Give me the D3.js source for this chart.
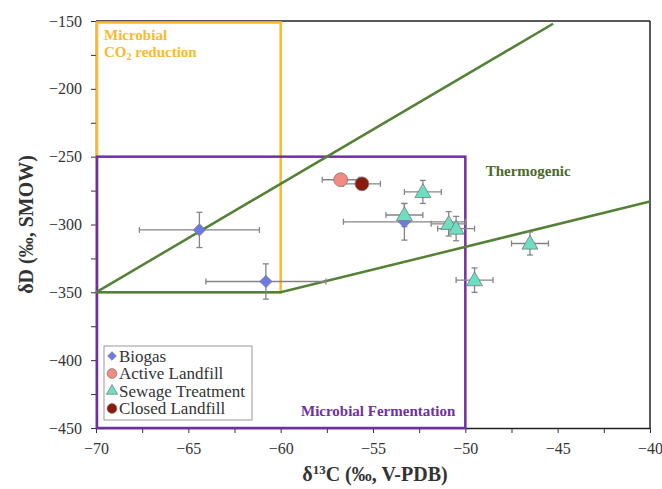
<!DOCTYPE html>
<html>
<head>
<meta charset="utf-8">
<script src="https://cdn.jsdelivr.net/npm/d3@7"></script>
</head>
<body style="margin:0; background:#fff">
<div id="wrapper"></div>
<script>
// data
const seriesNames = ["Biogas", "Active Landfill", "Sewage Treatment", "Closed Landfill"];

const biogasX = [-64.4, -60.8, -53.3];
const biogasY = [-304, -342, -298];
const biogasXErr = [3.25, 3.25, 3.3];
const biogasYErr = [13, 13, 13.5];

const activeX = [-56.75];
const activeY = [-267];
const activeXErr = [1.0];
const activeYErr = [1.5];

const sewageX = [-52.3, -53.3, -50.9, -50.5, -46.5, -49.5];
const sewageY = [-276, -293, -299.5, -303, -314, -341];
const sewageXErr = [1.0, 1.0, 0.95, 1.0, 1.0, 1.0];
const sewageYErr = [8.5, 8.5, 9, 9, 8.5, 9];

const closedX = [-55.6];
const closedY = [-270];
const closedXErr = [1.0];
const closedYErr = [1.5];

// genetic field boundaries
const co2Box = { x0: -70, x1: -60, y0: -350, y1: -150 };
const fermBox = { x0: -70, x1: -50, y0: -450, y1: -250 };
const thermoUpperX = [-70, -45.25];
const thermoUpperY = [-350, -152];
const thermoLowerX = [-70, -60, -40];
const thermoLowerY = [-350, -350, -283];

const xTicks = [-70, -65, -60, -55, -50, -45, -40];
const yTicks = [-150, -200, -250, -300, -350, -400, -450];

const serif = '"Liberation Serif", "Times New Roman", serif';

const width = 662;
let dimensions = {
    width: width,
    height: 489,
    margin: { top: 21, right: 12, bottom: 61, left: 96 },
};
dimensions.boundedWidth = dimensions.width - dimensions.margin.left - dimensions.margin.right;
dimensions.boundedHeight = dimensions.height - dimensions.margin.top - dimensions.margin.bottom;

const svg = d3.select("#wrapper")
    .append("svg")
    .attr("width", dimensions.width)
    .attr("height", dimensions.height)
    .style("font-family", serif);

const bounds = svg.append("g")
    .attr("transform", `translate(${dimensions.margin.left},${dimensions.margin.top})`);

const xScale = d3.scaleLinear().domain([-70, -40]).range([0, dimensions.boundedWidth]);
const yScale = d3.scaleLinear().domain([-450, -150]).range([dimensions.boundedHeight, 0]);

// minor ticks
const xMinor = d3.range(-67.5, -40, 5);
const yMinor = d3.range(-425, -150, 50);

bounds.append("g")
    .attr("transform", `translate(0,${dimensions.boundedHeight})`)
    .call(d3.axisBottom(xScale).tickValues(xMinor).tickSize(5).tickFormat(""))
    .call(g => g.select(".domain").remove())
    .selectAll("line").attr("stroke", "#333");
bounds.append("g")
    .call(d3.axisLeft(yScale).tickValues(yMinor).tickSize(5).tickFormat(""))
    .call(g => g.select(".domain").remove())
    .selectAll("line").attr("stroke", "#333");

const xAxis = bounds.append("g")
    .attr("transform", `translate(0,${dimensions.boundedHeight})`)
    .call(d3.axisBottom(xScale).tickValues(xTicks).tickSize(5).tickPadding(10).tickSizeOuter(0));
const yAxis = bounds.append("g")
    .call(d3.axisLeft(yScale).tickValues(yTicks).tickSize(5).tickPadding(9).tickSizeOuter(0));
[xAxis, yAxis].forEach(a => {
    a.attr("font-family", null).attr("font-size", null);
    a.select(".domain").attr("stroke", "#222").attr("stroke-width", 1.5);
    a.selectAll(".tick line").attr("stroke", "#333");
    a.selectAll(".tick text")
        .style("font-family", serif)
        .style("font-size", "16px")
        .attr("fill", "#333");
});

// frame top / right
bounds.append("line")
    .attr("x1", 0).attr("x2", dimensions.boundedWidth)
    .attr("y1", 0).attr("y2", 0)
    .attr("stroke", "#222").attr("stroke-width", 1.5);
bounds.append("line")
    .attr("x1", dimensions.boundedWidth).attr("x2", dimensions.boundedWidth)
    .attr("y1", 0).attr("y2", dimensions.boundedHeight)
    .attr("stroke", "#222").attr("stroke-width", 1.5);

// field boxes
const yellow = "#FBB92E";
const purple = "#7030A0";
const green = "#538135";

bounds.append("rect")
    .attr("x", xScale(co2Box.x0) + 1)
    .attr("y", yScale(co2Box.y1) + 1.5)
    .attr("width", xScale(co2Box.x1) - xScale(co2Box.x0) - 1)
    .attr("height", yScale(co2Box.y0) - yScale(co2Box.y1) - 1.5)
    .attr("fill", "none")
    .attr("stroke", yellow)
    .attr("stroke-width", 2.5);

bounds.append("rect")
    .attr("x", xScale(fermBox.x0) + 1)
    .attr("y", yScale(fermBox.y1))
    .attr("width", xScale(fermBox.x1) - xScale(fermBox.x0) - 1)
    .attr("height", yScale(fermBox.y0) - yScale(fermBox.y1))
    .attr("fill", "none")
    .attr("stroke", purple)
    .attr("stroke-width", 2.5);

const lineGen = d3.line().x(d => xScale(d[0])).y(d => yScale(d[1]));
bounds.append("path")
    .attr("d", lineGen(d3.zip(thermoUpperX, thermoUpperY)))
    .attr("fill", "none").attr("stroke", green).attr("stroke-width", 2.5);
bounds.append("path")
    .attr("d", lineGen(d3.zip(thermoLowerX, thermoLowerY)))
    .attr("fill", "none").attr("stroke", green).attr("stroke-width", 2.5);

// field labels
const co2Label = bounds.append("text")
    .attr("x", xScale(co2Box.x0) + 8)
    .attr("y", 19)
    .attr("fill", yellow)
    .attr("font-weight", "bold")
    .style("font-size", "15px");
co2Label.append("tspan").text("Microbial");
const co2Line2 = co2Label.append("tspan").attr("x", xScale(co2Box.x0) + 8).attr("dy", 17);
co2Line2.append("tspan").text("CO");
co2Line2.append("tspan").style("font-size", "10px").attr("dy", 3).text("2");
co2Line2.append("tspan").attr("dy", -3).text(" reduction");

bounds.append("text")
    .attr("x", xScale(-48.9))
    .attr("y", yScale(-264))
    .attr("fill", "#4C6A2A")
    .attr("font-weight", "bold")
    .style("font-size", "15px")
    .text("Thermogenic");

bounds.append("text")
    .attr("x", xScale(-58.9))
    .attr("y", yScale(-441))
    .attr("fill", purple)
    .attr("font-weight", "bold")
    .style("font-size", "15px")
    .text("Microbial Fermentation");

// series
const series = [
    { name: seriesNames[0], xs: biogasX, ys: biogasY, xe: biogasXErr, ye: biogasYErr, symbol: d3.symbolDiamond2, size: 95, fill: "#6B7BE6" },
    { name: seriesNames[1], xs: activeX, ys: activeY, xe: activeXErr, ye: activeYErr, symbol: d3.symbolCircle, size: 150, fill: "#F58A80" },
    { name: seriesNames[2], xs: sewageX, ys: sewageY, xe: sewageXErr, ye: sewageYErr, symbol: d3.symbolTriangle, size: 110, fill: "#6EDEC3" },
    { name: seriesNames[3], xs: closedX, ys: closedY, xe: closedXErr, ye: closedYErr, symbol: d3.symbolCircle, size: 150, fill: "#8B1A0F" },
];

const errColor = "#858585";
const cap = 3;
series.forEach(s => {
    const pts = s.xs.map((x, i) => ({ x, y: s.ys[i], xe: s.xe[i], ye: s.ye[i] }));
    const g = bounds.append("g");
    const eb = g.selectAll(".err").data(pts).enter().append("g")
        .attr("stroke", errColor).attr("stroke-width", 1.3).attr("fill", "none");
    eb.append("line")
        .attr("x1", d => xScale(d.x - d.xe)).attr("x2", d => xScale(d.x + d.xe))
        .attr("y1", d => yScale(d.y)).attr("y2", d => yScale(d.y));
    eb.append("line")
        .attr("x1", d => xScale(d.x - d.xe)).attr("x2", d => xScale(d.x - d.xe))
        .attr("y1", d => yScale(d.y) - cap).attr("y2", d => yScale(d.y) + cap);
    eb.append("line")
        .attr("x1", d => xScale(d.x + d.xe)).attr("x2", d => xScale(d.x + d.xe))
        .attr("y1", d => yScale(d.y) - cap).attr("y2", d => yScale(d.y) + cap);
    eb.append("line")
        .attr("x1", d => xScale(d.x)).attr("x2", d => xScale(d.x))
        .attr("y1", d => yScale(d.y - d.ye)).attr("y2", d => yScale(d.y + d.ye));
    eb.append("line")
        .attr("x1", d => xScale(d.x) - cap).attr("x2", d => xScale(d.x) + cap)
        .attr("y1", d => yScale(d.y - d.ye)).attr("y2", d => yScale(d.y - d.ye));
    eb.append("line")
        .attr("x1", d => xScale(d.x) - cap).attr("x2", d => xScale(d.x) + cap)
        .attr("y1", d => yScale(d.y + d.ye)).attr("y2", d => yScale(d.y + d.ye));
});
series.forEach(s => {
    const pts = s.xs.map((x, i) => ({ x, y: s.ys[i] }));
    bounds.append("g").selectAll("path").data(pts).enter().append("path")
        .attr("d", d3.symbol().type(s.symbol).size(s.size))
        .attr("transform", d => `translate(${xScale(d.x)},${yScale(d.y) + (s.symbol === d3.symbolTriangle ? 1 : 0)})`)
        .attr("fill", s.fill)
        .attr("stroke", "#777")
        .attr("stroke-width", 0.8);
});

// legend
const legend = svg.append("g").attr("transform", "translate(104,346)");
legend.append("rect")
    .attr("width", 148).attr("height", 74)
    .attr("fill", "#fff").attr("stroke", "#999").attr("stroke-width", 1);
const items = legend.selectAll(".item").data(series).enter().append("g")
    .attr("transform", (d, i) => `translate(8,${10 + i * 17.5})`);
items.append("path")
    .attr("d", d => d3.symbol().type(d.symbol).size(d.size * 0.5)())
    .attr("fill", d => d.fill)
    .attr("stroke", "#777").attr("stroke-width", 0.7);
items.append("text")
    .attr("x", 7).attr("y", 5.5)
    .style("font-size", "17px").attr("fill", "#333")
    .text(d => d.name);

// axis titles
const xTitle = svg.append("text")
    .attr("x", dimensions.margin.left + dimensions.boundedWidth / 2 + 2)
    .attr("y", 481)
    .attr("text-anchor", "middle")
    .attr("font-weight", "bold")
    .style("font-size", "20px")
    .attr("fill", "#333");
xTitle.append("tspan").text("δ");
xTitle.append("tspan").style("font-size", "13px").attr("dy", -7).text("13");
xTitle.append("tspan").attr("dy", 7).text("C (‰, V-PDB)");

svg.append("text")
    .attr("transform", `translate(33,${dimensions.margin.top + dimensions.boundedHeight / 2}) rotate(-90)`)
    .attr("text-anchor", "middle")
    .attr("font-weight", "bold")
    .style("font-size", "20px")
    .attr("fill", "#333")
    .text("δD (‰, SMOW)");
</script>
</body>
</html>
